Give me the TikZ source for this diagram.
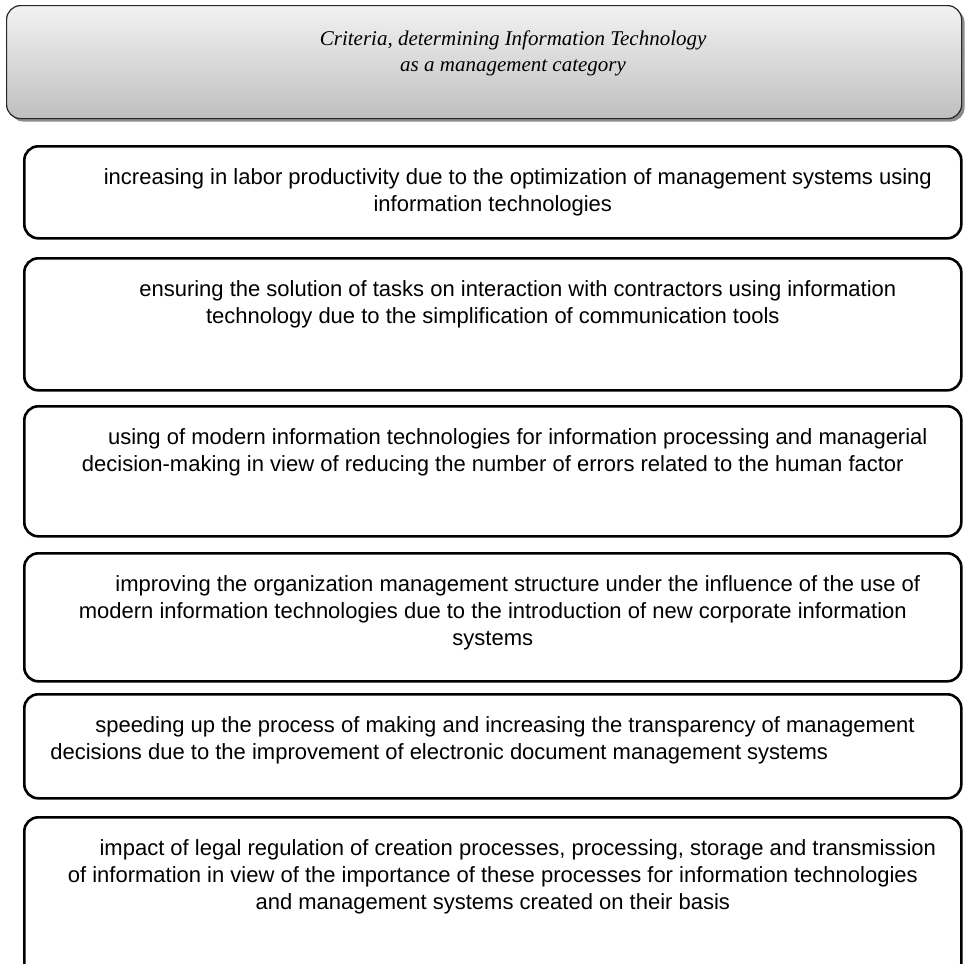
\documentclass[tikz,border=0pt]{standalone}
\usepackage{fontspec}
\setmainfont{Liberation Sans}
\newfontfamily\headfont{Liberation Serif}
\usetikzlibrary{shadows}

% body text of a criterion box: top-aligned, centred, first line indented
\newcommand{\critcentre}[2]{\parbox[c][#1][t]{937pt}{\fontsize{22}{27}\selectfont\centering
  \rule{0pt}{38pt}\hspace*{50pt}#2\par}}
% same, but flush left with a first-line indent
\newcommand{\critleft}[2]{\parbox[c][#1][t]{937pt}{\fontsize{22}{27}\selectfont\raggedright
  \leftskip=26pt\rule{0pt}{38pt}\hspace*{45pt}#2\par}}

\tikzset{
  critbox/.style={rectangle, draw=black, line width=2.6pt, rounded corners=14pt,
    inner sep=0pt, anchor=north west},
  headbox/.style={rectangle, draw=black!85, line width=1.2pt, rounded corners=14pt,
    inner sep=0pt, anchor=north west, top color=gray!10, bottom color=gray!50,
    drop shadow={shadow xshift=3pt, shadow yshift=-3pt, fill=black!45, opacity=1}}
}

\begin{document}
\begin{tikzpicture}[x=1pt, y=-1pt]
  \useasboundingbox (0,0) rectangle (967,964);
  \clip (0,0) rectangle (967,964);

  \node[headbox] (head) at (6,5) {\parbox[c][113pt][t]{955pt}{\headfont\itshape
    \fontsize{21}{26}\selectfont\centering\leftskip=58pt plus 1fil
    \rule{0pt}{40pt}Criteria, determining Information Technology\\
    as a management category\par}};

  \node[critbox] (c1) at (23,145) {\critcentre{92pt}{increasing in labor productivity due to the optimization of management systems using\\
    information technologies}};

  \node[critbox] (c2) at (23,257) {\critcentre{132pt}{ensuring the solution of tasks on interaction with contractors using information\\
    technology due to the simplification of communication tools}};

  \node[critbox] (c3) at (23,405) {\critcentre{130pt}{using of modern information technologies for information processing and managerial\\
    decision-making in view of reducing the number of errors related to the human factor}};

  \node[critbox] (c4) at (23,552) {\critcentre{128pt}{improving the organization management structure under the influence of the use of\\
    modern information technologies due to the introduction of new corporate information\\
    systems}};

  \node[critbox] (c5) at (23,693) {\critleft{104pt}{speeding up the process of making and increasing the transparency of management\\
    decisions due to the improvement of electronic document management systems}};

  \node[critbox] (c6) at (23,816) {\critcentre{160pt}{impact of legal regulation of creation processes, processing, storage and transmission\\
    of information in view of the importance of these processes for information technologies\\
    and management systems created on their basis}};
\end{tikzpicture}
\end{document}
